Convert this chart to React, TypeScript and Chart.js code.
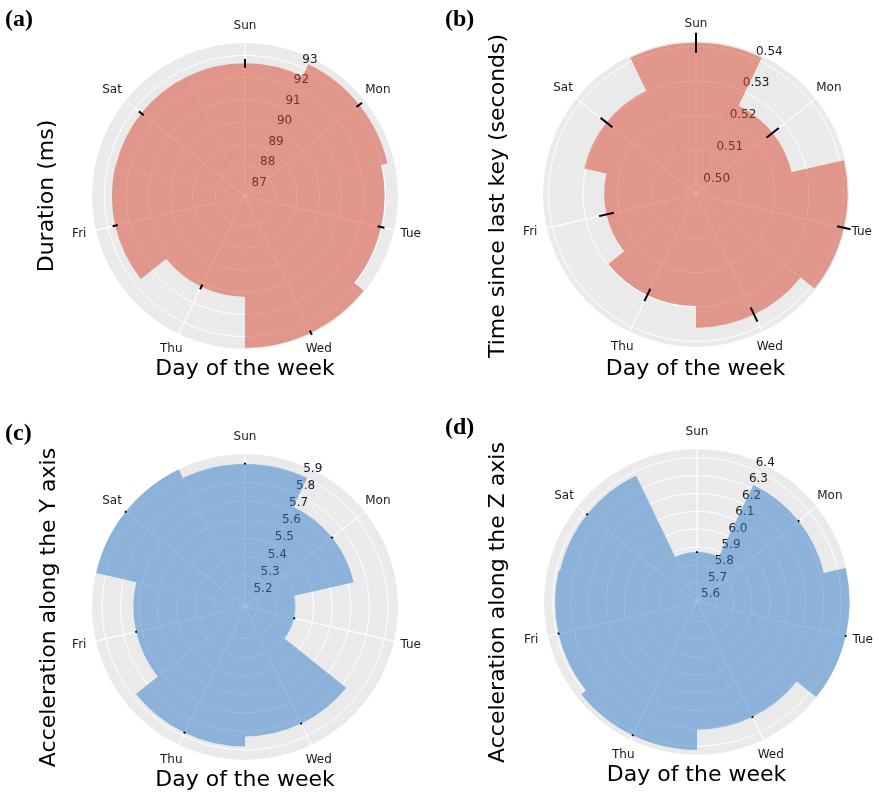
import React, { useEffect, useRef } from 'react';
import { Chart, registerables } from 'chart.js';

Chart.register(...registerables);

const DAYS = ['Sun', 'Mon', 'Tue', 'Wed', 'Thu', 'Fri', 'Sat'];

// (a) key press duration
const durationMs = [92.64, 93.25, 92.95, 93.5, 91.2, 92.66, 92.64];
const durationErr = [0.2, 0.16, 0.16, 0.11, 0.12, 0.12, 0.14];
const durationTicks = [87, 88, 89, 90, 91, 92, 93];
const durationTickLabels = ['87', '88', '89', '90', '91', '92', '93'];
const durationRange = [86.64, 93.56];

// (b) time since the previous key
const gapSec = [0.5411, 0.5256, 0.5412, 0.536, 0.5297, 0.5238, 0.5304];
const gapErr = [0.0029, 0.0023, 0.002, 0.0023, 0.002, 0.0022, 0.0022];
const gapTicks = [0.5, 0.51, 0.52, 0.53, 0.54];
const gapTickLabels = ['0.50', '0.51', '0.52', '0.53', '0.54'];
const gapRange = [0.4971, 0.5416];

// (c) acceleration, Y axis
const accelY = [5.902, 5.73, 5.402, 5.827, 5.881, 5.731, 5.952];
const accelYErr = [0.005, 0.005, 0.005, 0.005, 0.005, 0.005, 0.005];
const accelYTicks = [5.2, 5.3, 5.4, 5.5, 5.6, 5.7, 5.8, 5.9];
const accelYTickLabels = ['5.2', '5.3', '5.4', '5.5', '5.6', '5.7', '5.8', '5.9'];
const accelYRange = [5.13, 5.954];

// (d) acceleration, Z axis
const accelZ = [5.871, 6.32, 6.446, 6.307, 6.421, 6.387, 6.379];
const accelZErr = [0.005, 0.005, 0.005, 0.005, 0.005, 0.005, 0.005];
const accelZTicks = [5.6, 5.7, 5.8, 5.9, 6.0, 6.1, 6.2, 6.3, 6.4];
const accelZTickLabels = ['5.6', '5.7', '5.8', '5.9', '6.0', '6.1', '6.2', '6.3', '6.4'];
const accelZRange = [5.591, 6.449];

const X_TITLE = 'Day of the week';
const PANEL_W = 440;
const PANEL_H = 400;
const DISC = 306;
const FACE = '#eaeaea';
const RED = 'rgba(214, 66, 42, 0.5)';
const BLUE = 'rgba(46, 122, 202, 0.5)';
const TEXT = '#1a1a1a';
const SANS = '"DejaVu Sans", sans-serif';
const LABEL_ANGLE = 22.5; // degrees clockwise from the top
const START_ANGLE = -180 / DAYS.length; // wedges centred on each day

type Panel = {
  letter: string;
  yTitle: string;
  values: number[];
  errors: number[];
  ticks: number[];
  tickLabels: string[];
  range: number[];
  fill: string;
  left: number;
  top: number;
  discLeft: number;
  discTop: number;
  yTitleX: number;
  yTitleY: number;
  xTitleX: number;
  xTitleY: number;
  letterY: number;
};

const PANELS: Panel[] = [
  {
    letter: '(a)', yTitle: 'Duration (ms)',
    values: durationMs, errors: durationErr, ticks: durationTicks, tickLabels: durationTickLabels,
    range: durationRange, fill: RED,
    left: 0, top: 0, discLeft: 92, discTop: 43,
    yTitleX: 47.5, yTitleY: 196, xTitleX: 245, xTitleY: 375, letterY: 26,
  },
  {
    letter: '(b)', yTitle: 'Time since last key (seconds)',
    values: gapSec, errors: gapErr, ticks: gapTicks, tickLabels: gapTickLabels,
    range: gapRange, fill: RED,
    left: 440, top: 0, discLeft: 103, discTop: 41,
    yTitleX: 58, yTitleY: 196, xTitleX: 255.5, xTitleY: 375, letterY: 26,
  },
  {
    letter: '(c)', yTitle: 'Acceleration along the Y axis',
    values: accelY, errors: accelYErr, ticks: accelYTicks, tickLabels: accelYTickLabels,
    range: accelYRange, fill: BLUE,
    left: 0, top: 400, discLeft: 92, discTop: 54,
    yTitleX: 49, yTitleY: 207.5, xTitleX: 245, xTitleY: 386, letterY: 40,
  },
  {
    letter: '(d)', yTitle: 'Acceleration along the Z axis',
    values: accelZ, errors: accelZErr, ticks: accelZTicks, tickLabels: accelZTickLabels,
    range: accelZRange, fill: BLUE,
    left: 440, top: 400, discLeft: 104, discTop: 49,
    yTitleX: 58, yTitleY: 202.5, xTitleX: 256.5, xTitleY: 381, letterY: 34,
  },
];

function decorations(panel: Panel) {
  const n = DAYS.length;
  const step = 360 / n;
  const labelIndex = (LABEL_ANGLE - START_ANGLE) / step;

  return {
    id: 'polarDecor',
    beforeDatasetsDraw(chart: any) {
      const scale = chart.scales.r;
      const ctx: CanvasRenderingContext2D = chart.ctx;
      const cx = scale.xCenter;
      const cy = scale.yCenter;
      const R = scale.drawingArea;
      ctx.save();
      // face
      ctx.beginPath();
      ctx.arc(cx, cy, R, 0, Math.PI * 2);
      ctx.fillStyle = FACE;
      ctx.fill();
      // rings at each tick
      ctx.strokeStyle = '#ffffff';
      ctx.lineWidth = 1;
      panel.ticks.forEach((t) => {
        const r = scale.getDistanceFromCenterForValue(t);
        ctx.beginPath();
        ctx.arc(cx, cy, r, 0, Math.PI * 2);
        ctx.stroke();
      });
      // spokes through each day
      ctx.lineWidth = 1.2;
      for (let i = 0; i < n; i++) {
        const p = scale.getPointPosition(i + 0.5, R);
        ctx.beginPath();
        ctx.moveTo(cx, cy);
        ctx.lineTo(p.x, p.y);
        ctx.stroke();
      }
      // radial tick labels, sitting under the translucent bars
      ctx.fillStyle = TEXT;
      ctx.font = `12px ${SANS}`;
      ctx.textAlign = 'left';
      ctx.textBaseline = 'alphabetic';
      panel.ticks.forEach((t, k) => {
        const p = scale.getPointPosition(labelIndex, scale.getDistanceFromCenterForValue(t));
        ctx.fillText(panel.tickLabels[k], p.x + 3.5, p.y - 3.1);
      });
      ctx.restore();
    },
    afterDatasetsDraw(chart: any) {
      const scale = chart.scales.r;
      const ctx: CanvasRenderingContext2D = chart.ctx;
      const R = scale.drawingArea;
      ctx.save();
      // error bars
      ctx.strokeStyle = '#000000';
      ctx.lineWidth = 2;
      panel.values.forEach((v, i) => {
        const e = panel.errors[i];
        const a = scale.getPointPosition(i + 0.5, scale.getDistanceFromCenterForValue(v - e));
        const b = scale.getPointPosition(i + 0.5, scale.getDistanceFromCenterForValue(v + e));
        ctx.beginPath();
        ctx.moveTo(a.x, a.y);
        ctx.lineTo(b.x, b.y);
        ctx.stroke();
      });
      // day names
      ctx.fillStyle = TEXT;
      ctx.font = `12px ${SANS}`;
      ctx.textAlign = 'center';
      ctx.textBaseline = 'middle';
      DAYS.forEach((d, i) => {
        const p = scale.getPointPosition(i + 0.5, R + 17);
        ctx.fillText(d, p.x, p.y);
      });
      // axis titles
      ctx.fillStyle = '#000000';
      ctx.font = `22px ${SANS}`;
      ctx.textAlign = 'center';
      ctx.textBaseline = 'alphabetic';
      ctx.fillText(X_TITLE, panel.xTitleX, panel.xTitleY);
      ctx.save();
      ctx.translate(panel.yTitleX, panel.yTitleY);
      ctx.rotate(-Math.PI / 2);
      ctx.textBaseline = 'middle';
      ctx.fillText(panel.yTitle, 0, 0);
      ctx.restore();
      // panel letter
      ctx.font = 'bold 24px "Liberation Serif", "Times New Roman", serif';
      ctx.textAlign = 'left';
      ctx.textBaseline = 'alphabetic';
      ctx.fillText(panel.letter, 5, panel.letterY);
      ctx.restore();
    },
  };
}

function PolarPanel({ panel }: { panel: Panel }) {
  const ref = useRef<HTMLCanvasElement | null>(null);

  useEffect(() => {
    if (!ref.current) return;
    const chart = new Chart(ref.current, {
      type: 'polarArea',
      data: {
        labels: DAYS,
        datasets: [
          {
            data: panel.values,
            backgroundColor: panel.fill,
            borderWidth: 0,
          },
        ],
      },
      options: {
        animation: false,
        responsive: false,
        maintainAspectRatio: false,
        layout: {
          padding: {
            left: panel.discLeft,
            top: panel.discTop,
            right: PANEL_W - panel.discLeft - DISC,
            bottom: PANEL_H - panel.discTop - DISC,
          },
        },
        plugins: {
          legend: { display: false },
          tooltip: { enabled: false },
        },
        scales: {
          r: {
            min: panel.range[0],
            max: panel.range[1],
            startAngle: START_ANGLE,
            grid: { display: false },
            angleLines: { display: false },
            ticks: { display: false },
            pointLabels: { display: false },
          },
        },
      } as any,
      plugins: [decorations(panel)],
    });
    return () => chart.destroy();
  }, [panel]);

  return (
    <canvas
      ref={ref}
      width={PANEL_W}
      height={PANEL_H}
      style={{ position: 'absolute', left: panel.left, top: panel.top, width: PANEL_W, height: PANEL_H }}
    />
  );
}

export default function App() {
  return (
    <div style={{ position: 'fixed', left: 0, top: 0, width: 880, height: 800, background: '#ffffff' }}>
      {PANELS.map((p) => (
        <PolarPanel key={p.letter} panel={p} />
      ))}
    </div>
  );
}
